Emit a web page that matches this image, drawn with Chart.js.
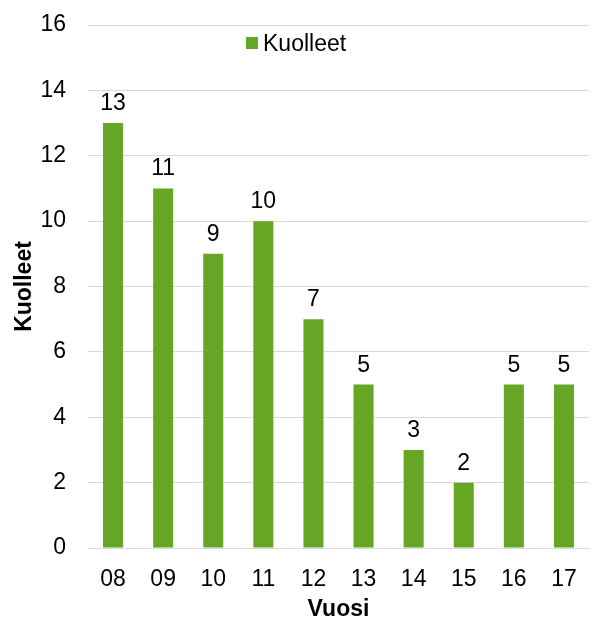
<!DOCTYPE html>
<html>
<head>
<meta charset="utf-8">
<script src="https://cdn.jsdelivr.net/npm/chart.js@4/dist/chart.umd.min.js"></script>
<style>
  html, body { margin: 0; padding: 0; background: #fff; }
  #wrap { width: 592px; height: 618px; position: relative; }
</style>
</head>
<body>
<div id="wrap"><canvas id="chart"></canvas></div>
<script>
const years = ["08", "09", "10", "11", "12", "13", "14", "15", "16", "17"];
const deaths = [13, 11, 9, 10, 7, 5, 3, 2, 5, 5];
const seriesName = "Kuolleet";

const green = "#65a625";
const font = "'Liberation Sans', Arial, sans-serif";
const fontSize = 23;

// value labels above each bar
const valueLabels = {
  id: "valueLabels",
  afterDatasetsDraw(chart) {
    const ctx = chart.ctx;
    const meta = chart.getDatasetMeta(0);
    ctx.save();
    ctx.font = fontSize + "px " + font;
    ctx.fillStyle = "#000";
    ctx.textAlign = "center";
    ctx.textBaseline = "alphabetic";
    meta.data.forEach((bar, i) => {
      ctx.fillText(String(chart.data.datasets[0].data[i]), bar.x, bar.y - 13);
    });
    ctx.restore();
  }
};

// legend drawn inside the plot area
const innerLegend = {
  id: "innerLegend",
  afterDraw(chart) {
    const ctx = chart.ctx;
    ctx.save();
    ctx.font = fontSize + "px " + font;
    ctx.fillStyle = green;
    ctx.fillRect(246, 37, 12, 12);
    ctx.fillStyle = "#000";
    ctx.textBaseline = "alphabetic";
    ctx.textAlign = "left";
    ctx.fillText(chart.data.datasets[0].label, 263, 51);
    ctx.restore();
  }
};

new Chart(document.getElementById("chart"), {
  type: "bar",
  data: {
    labels: years,
    datasets: [{
      label: seriesName,
      data: deaths,
      backgroundColor: green,
      barPercentage: 0.4,
      categoryPercentage: 1.0
    }]
  },
  options: {
    responsive: true,
    maintainAspectRatio: false,
    animation: false,
    layout: { padding: { top: 25, right: 3, left: 4, bottom: 0 } },
    plugins: {
      legend: { display: false },
      tooltip: { enabled: false }
    },
    scales: {
      x: {
        afterFit(scale) { scale.height = 70; },
        grid: { display: false },
        border: { color: "#d9d9d9", width: 1 },
        ticks: { color: "#000", font: { family: font, size: fontSize }, padding: 10 },
        title: {
          display: true, text: "Vuosi", color: "#000",
          font: { family: font, size: fontSize, weight: "bold", lineHeight: 1 },
          padding: { top: 0, bottom: -3 }
        }
      },
      y: {
        afterFit(scale) { scale.width = 84; },
        min: 0, max: 16,
        ticks: { stepSize: 2, color: "#000", font: { family: font, size: fontSize }, padding: 8 },
        // invisible tick marks keep the labels away from the plot
        grid: { color: "#d9d9d9", lineWidth: 1, drawTicks: true, tickLength: 14, tickColor: "rgba(0,0,0,0)" },
        border: { display: false },
        title: {
          display: true, text: "Kuolleet", color: "#000",
          font: { family: font, size: fontSize, weight: "bold", lineHeight: 1 },
          padding: { top: 9, bottom: 0 }
        }
      }
    }
  },
  plugins: [valueLabels, innerLegend]
});
</script>
</body>
</html>
